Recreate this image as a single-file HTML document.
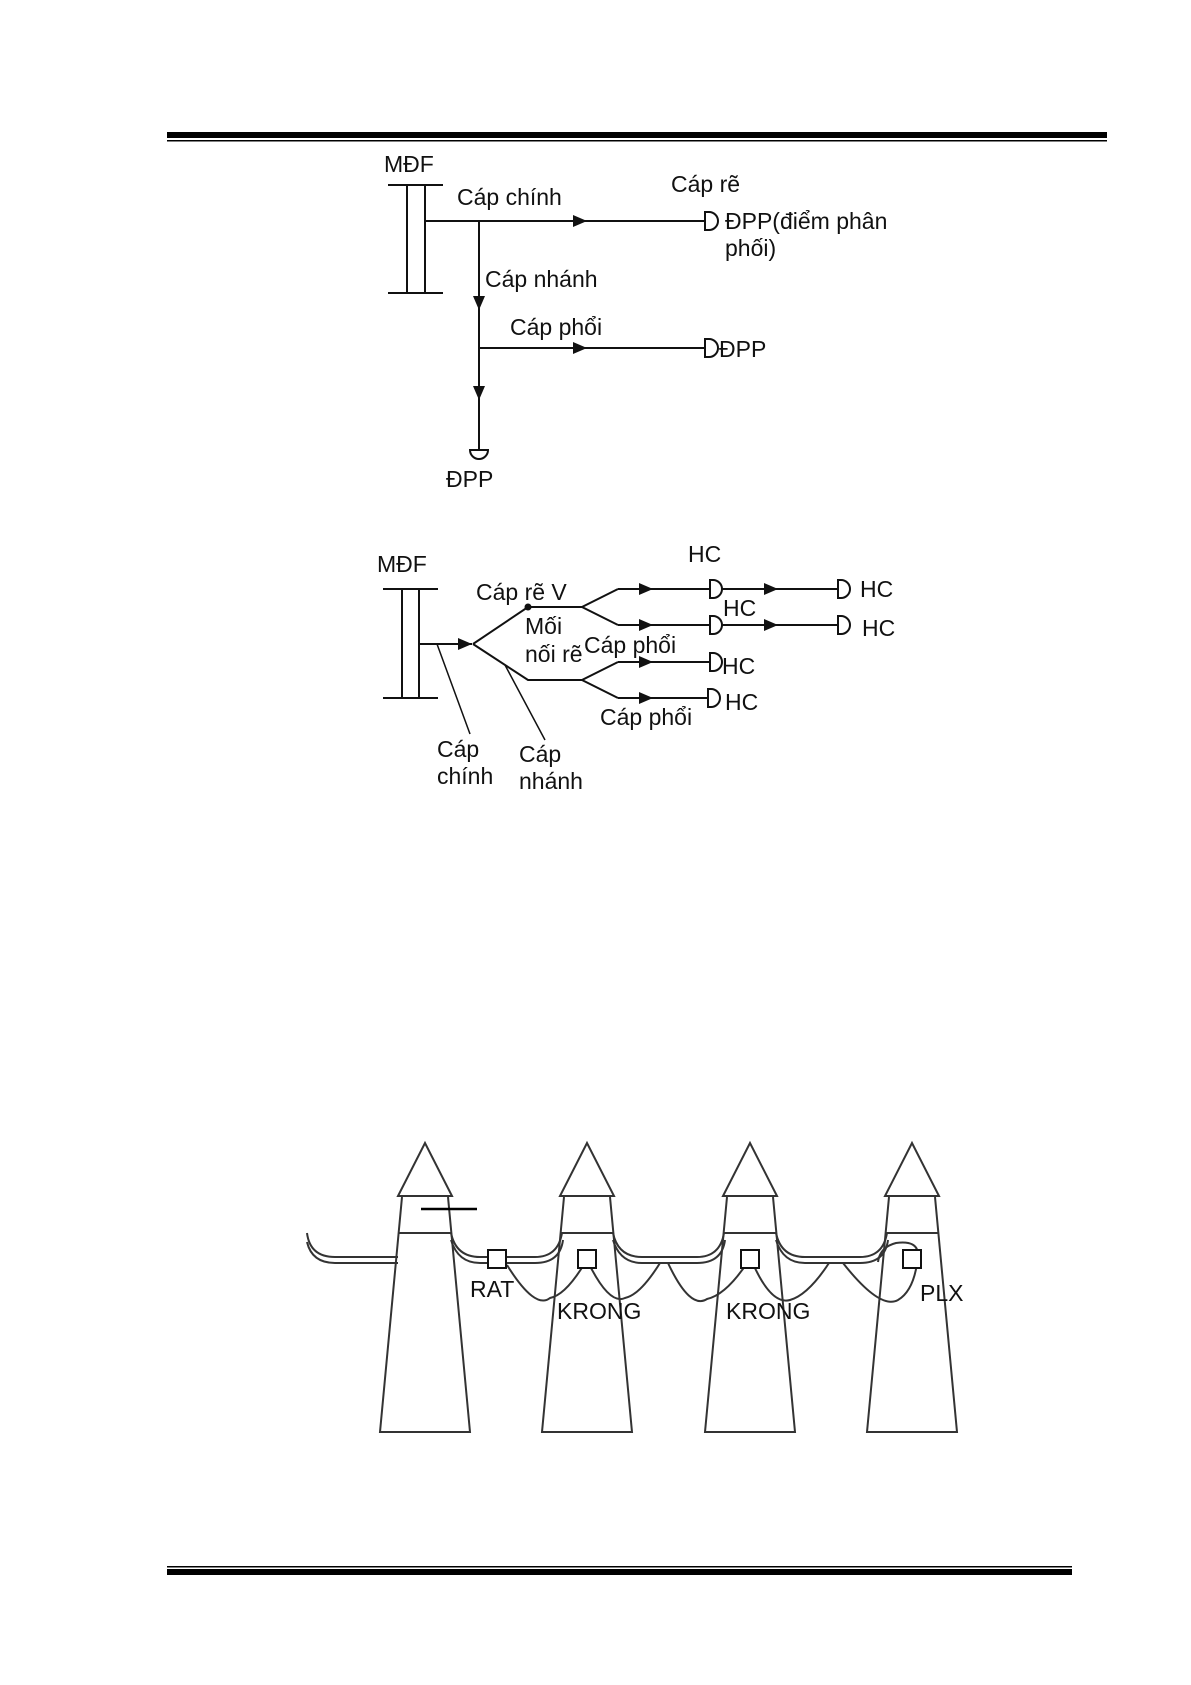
<!DOCTYPE html>
<html><head><meta charset="utf-8"><style>
html,body{margin:0;padding:0;background:#fff}
svg{display:block}
text{font-family:"Liberation Sans",Arial,sans-serif;font-size:23px;fill:#111}
</style></head><body>
<svg width="1191" height="1685" viewBox="0 0 1191 1685" xmlns="http://www.w3.org/2000/svg">
<defs>
<marker id="ar" markerWidth="14" markerHeight="12" refX="14" refY="6" orient="auto" markerUnits="userSpaceOnUse">
<path d="M0,0 L14,6 L0,12 Z" fill="#111"/></marker>
</defs>
<rect x="167" y="132" width="940" height="6" fill="#000"/>
<rect x="167" y="140" width="940" height="1.5" fill="#000"/>
<rect x="167" y="1566" width="905" height="1.5" fill="#000"/>
<rect x="167" y="1569" width="905" height="6" fill="#000"/>

<g stroke="#111" stroke-width="2" fill="none">
<line x1="388" y1="185" x2="443" y2="185"/>
<line x1="388" y1="293" x2="443" y2="293"/>
<line x1="407" y1="185" x2="407" y2="293"/>
<line x1="425" y1="185" x2="425" y2="293"/>
<line x1="425" y1="221" x2="587" y2="221" marker-end="url(#ar)"/>
<line x1="585" y1="221" x2="705" y2="221"/>
<path d="M705,212 L709,212 A9,9 0 0 1 709,230 L705,230 Z"/>
<line x1="479" y1="221" x2="479" y2="310" marker-end="url(#ar)"/>
<line x1="479" y1="305" x2="479" y2="400" marker-end="url(#ar)"/>
<line x1="479" y1="398" x2="479" y2="450"/>
<path d="M470,450 L488,450 A9,9 0 0 1 470,450 Z"/>
<line x1="479" y1="348" x2="587" y2="348" marker-end="url(#ar)"/>
<line x1="585" y1="348" x2="705" y2="348"/>
<path d="M705,339 L709,339 A9,9 0 0 1 709,357 L705,357 Z"/>

<line x1="383" y1="589" x2="438" y2="589"/>
<line x1="383" y1="698" x2="438" y2="698"/>
<line x1="402" y1="589" x2="402" y2="698"/>
<line x1="419" y1="589" x2="419" y2="698"/>
<line x1="419" y1="644" x2="472" y2="644" marker-end="url(#ar)"/>
<polyline points="473,644 528,607 582,607"/>
<polyline points="473,644 528,680 582,680"/>
<polyline points="618,589 582,607 618,625"/>
<polyline points="618,662 582,680 618,698"/>
<line x1="618" y1="589" x2="653" y2="589" marker-end="url(#ar)"/>
<line x1="650" y1="589" x2="710" y2="589"/>
<line x1="618" y1="625" x2="653" y2="625" marker-end="url(#ar)"/>
<line x1="650" y1="625" x2="710" y2="625"/>
<line x1="618" y1="662" x2="653" y2="662" marker-end="url(#ar)"/>
<line x1="650" y1="662" x2="710" y2="662"/>
<line x1="618" y1="698" x2="653" y2="698" marker-end="url(#ar)"/>
<line x1="650" y1="698" x2="708" y2="698"/>
<path d="M710,580 L713,580 A9,9 0 0 1 713,598 L710,598 Z"/>
<path d="M710,616 L713,616 A9,9 0 0 1 713,634 L710,634 Z"/>
<path d="M710,653 L713,653 A9,9 0 0 1 713,671 L710,671 Z"/>
<path d="M708,689 L711,689 A9,9 0 0 1 711,707 L708,707 Z"/>
<line x1="722" y1="589" x2="778" y2="589" marker-end="url(#ar)"/>
<line x1="775" y1="589" x2="838" y2="589"/>
<line x1="722" y1="625" x2="778" y2="625" marker-end="url(#ar)"/>
<line x1="775" y1="625" x2="838" y2="625"/>
<path d="M838,580 L841,580 A9,9 0 0 1 841,598 L838,598 Z"/>
<path d="M838,616 L841,616 A9,9 0 0 1 841,634 L838,634 Z"/>
<line x1="437" y1="644" x2="470" y2="734" stroke-width="1.5"/>
<line x1="505" y1="665" x2="545" y2="740" stroke-width="1.5"/>
</g>
<circle cx="528" cy="607" r="3.5" fill="#111"/>

<text x="384" y="172">MĐF</text>
<text x="457" y="205">Cáp chính</text>
<text x="671" y="192">Cáp rẽ</text>
<text x="725" y="229">ĐPP(điểm phân</text>
<text x="725" y="256">phối)</text>
<text x="485" y="287">Cáp nhánh</text>
<text x="510" y="335">Cáp phổi</text>
<text x="719" y="357">ĐPP</text>
<text x="446" y="487">ĐPP</text>

<text x="377" y="572">MĐF</text>
<text x="476" y="600">Cáp rẽ V</text>
<text x="525" y="634">Mối</text>
<text x="525" y="662">nối rẽ</text>
<text x="584" y="653">Cáp phổi</text>
<text x="600" y="725">Cáp phổi</text>
<text x="688" y="562">HC</text>
<text x="723" y="616">HC</text>
<text x="722" y="674">HC</text>
<text x="725" y="710">HC</text>
<text x="860" y="597">HC</text>
<text x="862" y="636">HC</text>
<text x="437" y="757">Cáp</text>
<text x="437" y="784">chính</text>
<text x="519" y="762">Cáp</text>
<text x="519" y="789">nhánh</text>

<g stroke="#333" stroke-width="2" fill="none">
<polygon points="425,1143 398,1196 452,1196"/>
<polyline points="402,1197 380,1432 470,1432 448,1197"/>
<line x1="399" y1="1233" x2="451" y2="1233"/>
<polygon points="587,1143 560,1196 614,1196"/>
<polyline points="564,1197 542,1432 632,1432 610,1197"/>
<line x1="561" y1="1233" x2="613" y2="1233"/>
<polygon points="750,1143 723,1196 777,1196"/>
<polyline points="727,1197 705,1432 795,1432 773,1197"/>
<line x1="724" y1="1233" x2="776" y2="1233"/>
<polygon points="912,1143 885,1196 939,1196"/>
<polyline points="889,1197 867,1432 957,1432 935,1197"/>
<line x1="886" y1="1233" x2="938" y2="1233"/>

<path d="M307,1233 Q310,1257 335,1257 L398,1257"/>
<path d="M307,1242 Q312,1263 335,1263 L398,1263"/>
<path d="M451,1233 Q456,1257 480,1257 L535,1257 Q558,1257 562,1233"/>
<path d="M451,1240 Q458,1263 480,1263 L535,1263 Q560,1263 563,1240"/>
<path d="M613,1233 Q618,1257 642,1257 L697,1257 Q720,1257 724,1233"/>
<path d="M613,1240 Q620,1263 642,1263 L697,1263 Q722,1263 725,1240"/>
<path d="M776,1233 Q781,1257 805,1257 L860,1257 Q883,1257 887,1233"/>
<path d="M776,1240 Q783,1263 805,1263 L860,1263 Q885,1263 888,1240"/>
<path d="M507,1265 Q535,1310 550,1298 Q565,1295 583,1266"/>
<path d="M590,1266 Q610,1305 625,1298 Q640,1295 660,1263"/>
<path d="M668,1263 Q690,1310 707,1299 Q725,1295 745,1266"/>
<path d="M754,1266 Q772,1305 790,1300 Q808,1295 829,1263"/>
<path d="M843,1263 Q880,1310 898,1300 Q915,1290 918,1255 Q918,1240 896,1243 Q880,1247 878,1262"/>
</g>
<g stroke="#111" stroke-width="2" fill="#fff">
<rect x="488" y="1250" width="18" height="18"/>
<rect x="578" y="1250" width="18" height="18"/>
<rect x="741" y="1250" width="18" height="18"/>
<rect x="903" y="1250" width="18" height="18"/>
</g>
<line x1="421" y1="1209" x2="477" y2="1209" stroke="#000" stroke-width="2.5"/>
<text x="470" y="1297">RAT</text>
<text x="557" y="1319">KRONG</text>
<text x="726" y="1319">KRONG</text>
<text x="920" y="1301">PLX</text>
</svg>
</body></html>
